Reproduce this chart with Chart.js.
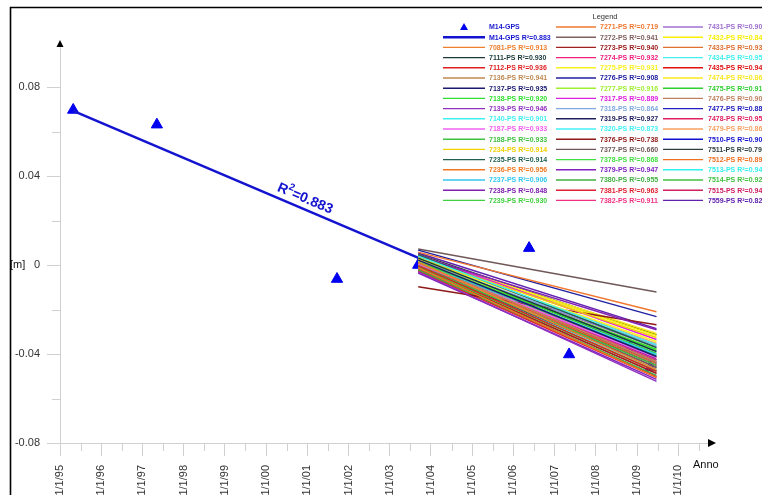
<!DOCTYPE html>
<html>
<head>
<meta charset="utf-8">
<script src="https://cdn.jsdelivr.net/npm/chart.js@4.4.1/dist/chart.umd.min.js"></script>
<style>
  html, body { margin: 0; padding: 0; background: #fff; }
  canvas { display: block; }
</style>
</head>
<body>
<canvas id="c" width="762" height="495"></canvas>
<script>
// ---------------- DATA ----------------
const xTickYears = [1995,1996,1997,1998,1999,2000,2001,2002,2003,2004,2005,2006,2007,2008,2009,2010];
const xTickLabels = ['1/1/95','1/1/96','1/1/97','1/1/98','1/1/99','1/1/00','1/1/01','1/1/02','1/1/03','1/1/04','1/1/05','1/1/06','1/1/07','1/1/08','1/1/09','1/1/10'];
const yTickValues = [-0.08, -0.04, 0, 0.04, 0.08];
const yTickLabels = ['-0.08', '-0.04', '0', '0.04', '0.08'];

const gpsDates  = [1995.32, 1997.35, 2001.72, 2003.69, 2006.38, 2007.35, 2008.83, 2009.32];
const gpsValues = [0.0697, 0.0631, -0.0063, 0.0000, 0.0076, -0.0402, -0.0371, -0.0461];

const gpsTrendDates  = [1995.32, 2009.45];
const gpsTrendValues = [0.0693, -0.0422];
const gpsTrendR2 = '0.883';
const gpsTrendLabelYear = 2000.85;

const psDates = [2003.69, 2009.47];
const psNames = ['7081','7111','7112','7136','7137','7138','7139','7140','7187','7188','7234','7235','7236','7237','7238','7239',
                 '7271','7272','7273','7274','7275','7276','7277','7317','7318','7319','7320','7376','7377','7378','7379','7380','7381','7382',
                 '7431','7432','7433','7434','7435','7474','7475','7476','7477','7478','7479','7510','7511','7512','7513','7514','7515','7559'];
const psR2 = ['0.913','0.930','0.936','0.941','0.935','0.920','0.946','0.901','0.933','0.933','0.914','0.914','0.956','0.906','0.848','0.930',
              '0.719','0.941','0.940','0.932','0.931','0.908','0.916','0.889','0.864','0.927','0.873','0.738','0.660','0.868','0.947','0.955','0.963','0.911',
              '0.90','0.84','0.93','0.95','0.94','0.86','0.91','0.90','0.88','0.95','0.86','0.90','0.79','0.89','0.94','0.92','0.94','0.82'];
const psStartValues = [0.0013,0.0031,-0.0004,0.0009,0.0022,0.0013,-0.0031,0.0040,0.0004,-0.0004,0.0031,0.0045,-0.0013,0.0013,0.0040,-0.0009,
                       0.0058,0.0000,-0.0013,0.0009,0.0027,0.0067,0.0018,0.0045,0.0022,-0.0004,0.0031,-0.0098,0.0072,0.0013,-0.0036,-0.0022,-0.0027,0.0004,
                       0.0022,0.0036,0.0004,-0.0004,0.0013,0.0040,0.0027,0.0018,0.0009,-0.0018,0.0031,0.0013,0.0049,-0.0004,0.0000,0.0004,-0.0022,0.0054];
const psEndValues = [-0.0469,-0.0389,-0.0478,-0.0434,-0.0411,-0.0380,-0.0523,-0.0358,-0.0416,-0.0451,-0.0326,-0.0371,-0.0505,-0.0402,-0.0291,-0.0478,
                     -0.0210,-0.0460,-0.0487,-0.0434,-0.0344,-0.0232,-0.0380,-0.0335,-0.0362,-0.0460,-0.0389,-0.0268,-0.0121,-0.0407,-0.0514,-0.0496,-0.0505,-0.0425,
                     -0.0371,-0.0317,-0.0442,-0.0469,-0.0451,-0.0308,-0.0398,-0.0416,-0.0425,-0.0487,-0.0353,-0.0442,-0.0313,-0.0474,-0.0451,-0.0434,-0.0501,-0.0286];

// ---------------- STYLES ----------------
const psColors = ['#F08030','#1A3A3A','#E02020','#C08850','#1A1A70','#30E030','#9030C0','#40F0F0','#F060F0','#40C040','#F0D000','#206050','#F07820','#30C8F0','#8020B0','#40D040',
                  '#F07830','#806060','#A02020','#F02080','#F8F020','#2020A0','#A0F030','#E020E0','#80A8E0','#202060','#40F0F8','#901818','#705858','#40E040','#8020C0','#40B040','#E02030','#F03080',
                  '#A070D0','#F8F000','#E07030','#40F0F0','#E01010','#F8E820','#30D030','#C08060','#2020C0','#E02060','#F8A060','#1010D0','#304040','#F07020','#30F0F0','#40C040','#D02060','#6020B0'];
const gpsColor = '#0000F0';
const trendColor = '#1414D0';
const FONT = "'Liberation Sans', Arial, sans-serif";

const xMinorTicks = [];
for (let y = 1995; y <= 2010.5; y += 0.5) xMinorTicks.push(y);
const yAllTicks = [-0.08, -0.06, -0.04, -0.02, 0, 0.02, 0.04, 0.06, 0.08];

// ---------------- DATASETS ----------------
const datasets = [];
psNames.forEach((n, i) => {
  datasets.push({
    label: n + '-PS R²=' + psR2[i],
    data: psDates.map((d, k) => ({ x: d, y: k === 0 ? psStartValues[i] : psEndValues[i] })),
    showLine: true,
    borderColor: psColors[i],
    backgroundColor: psColors[i],
    borderWidth: 1.5,
    pointRadius: 0,
    order: 0
  });
});
datasets.push({
  label: 'M14-GPS R²=' + gpsTrendR2,
  data: gpsTrendDates.map((d, k) => ({ x: d, y: gpsTrendValues[k] })),
  showLine: true,
  borderColor: trendColor,
  backgroundColor: trendColor,
  borderWidth: 2.6,
  pointRadius: 0,
  order: 1
});
datasets.push({
  label: 'M14-GPS',
  data: gpsDates.map((d, k) => ({ x: d, y: gpsValues[k] })),
  showLine: false,
  pointStyle: 'triangle',
  pointRadius: 6.5,
  pointBackgroundColor: gpsColor,
  pointBorderColor: gpsColor,
  pointBorderWidth: 1,
  order: 2
});

// ---------------- PLUGIN ----------------
const decor = {
  id: 'decor',
  beforeDraw(chart) {
    const c = chart.ctx;
    c.save();
    c.fillStyle = '#fff';
    c.fillRect(0, 0, chart.width, chart.height);
    c.restore();
  },
  afterDatasetsDraw(chart) {
    const c = chart.ctx, xs = chart.scales.x, ys = chart.scales.y;
    const x1 = xs.getPixelForValue(gpsTrendDates[0]), y1 = ys.getPixelForValue(gpsTrendValues[0]);
    const x2 = xs.getPixelForValue(gpsTrendDates[1]), y2 = ys.getPixelForValue(gpsTrendValues[1]);
    const ang = Math.atan2(y2 - y1, x2 - x1);
    const t = (gpsTrendLabelYear - gpsTrendDates[0]) / (gpsTrendDates[1] - gpsTrendDates[0]);
    const px = x1 + t * (x2 - x1), py = y1 + t * (y2 - y1);
    c.save();
    c.translate(px, py);
    c.rotate(ang);
    c.translate(0, -10);
    c.fillStyle = trendColor;
    c.textBaseline = 'middle';
    const fBig = 'bold 14px ' + FONT, fSmall = 'bold 10px ' + FONT;
    c.font = fBig; const wR = c.measureText('R').width; const wRest = c.measureText('=' + gpsTrendR2).width;
    c.font = fSmall; const w2 = c.measureText('2').width;
    let sx = -(wR + w2 + wRest) / 2;
    c.font = fBig; c.textAlign = 'left';
    c.fillText('R', sx, 0); sx += wR;
    c.font = fSmall; c.fillText('2', sx, -5); sx += w2;
    c.font = fBig; c.fillText('=' + gpsTrendR2, sx, 0);
    c.restore();
  },
  afterDraw(chart) {
    const c = chart.ctx, xs = chart.scales.x, ys = chart.scales.y, a = chart.chartArea;
    c.save();
    c.strokeStyle = '#d0d0d0'; c.lineWidth = 1;
    xMinorTicks.forEach(v => {
      if (Number.isInteger(v)) return;
      const x = Math.round(xs.getPixelForValue(v)) + 0.5;
      c.beginPath(); c.moveTo(x, a.bottom); c.lineTo(x, a.bottom + 8); c.stroke();
    });
    yAllTicks.forEach(v => {
      if (yTickValues.some(m => Math.abs(m - v) < 1e-9)) return;
      const y = Math.round(ys.getPixelForValue(v)) + 0.5;
      c.beginPath(); c.moveTo(a.left - 8, y); c.lineTo(a.left, y); c.stroke();
    });
    c.fillStyle = '#000';
    c.beginPath(); c.moveTo(a.right, a.bottom - 4); c.lineTo(a.right + 8, a.bottom); c.lineTo(a.right, a.bottom + 4); c.closePath(); c.fill();
    c.beginPath(); c.moveTo(a.left - 3.5, a.top); c.lineTo(a.left, a.top - 7); c.lineTo(a.left + 3.5, a.top); c.closePath(); c.fill();
    c.strokeStyle = '#000'; c.lineWidth = 1.6;
    c.beginPath(); c.moveTo(10.5, chart.height); c.lineTo(10.5, 7.5); c.lineTo(chart.width, 7.5); c.stroke();
    c.fillStyle = '#111'; c.font = '11px ' + FONT; c.textBaseline = 'middle'; c.textAlign = 'left';
    c.fillText('[m]', 10, ys.getPixelForValue(0));
    c.fillText('Anno', a.right - 15, a.bottom + 22);
    c.fillStyle = '#333'; c.font = '7.5px ' + FONT; c.textAlign = 'center';
    c.fillText('Legend', 605, 17);
    const items = [{ kind: 'tri', label: 'M14-GPS', color: gpsColor }, { kind: 'thick', label: 'M14-GPS R²=' + gpsTrendR2, color: trendColor }];
    psNames.forEach((n, i) => items.push({ kind: 'line', label: n + '-PS R²=' + psR2[i], color: psColors[i] }));
    const colLineX0 = [443, 556, 663], colLineX1 = [485, 596, 703], colTextX = [489, 600, 708];
    c.font = 'bold 7px ' + FONT; c.textAlign = 'left';
    items.forEach((it, i) => {
      const col = Math.floor(i / 18), row = i % 18;
      const y = 27 + row * 10.2;
      if (it.kind === 'tri') {
        const cx = (colLineX0[col] + colLineX1[col]) / 2;
        c.fillStyle = it.color;
        c.beginPath(); c.moveTo(cx - 4, y + 3); c.lineTo(cx, y - 4); c.lineTo(cx + 4, y + 3); c.closePath(); c.fill();
      } else {
        c.strokeStyle = it.color; c.lineWidth = it.kind === 'thick' ? 2.6 : 1.4;
        c.beginPath(); c.moveTo(colLineX0[col], y); c.lineTo(colLineX1[col], y); c.stroke();
      }
      c.fillStyle = it.color === gpsColor ? '#1a1ad0' : it.color;
      c.fillText(it.label, colTextX[col], y + 0.5);
    });
    c.restore();
  }
};

// ---------------- CHART ----------------
new Chart(document.getElementById('c'), {
  type: 'scatter',
  data: { datasets },
  options: {
    responsive: false,
    animation: false,
    events: [],
    layout: { padding: { left: 0, top: 47, right: 54, bottom: 0 } },
    plugins: { legend: { display: false }, tooltip: { enabled: false } },
    scales: {
      x: {
        type: 'linear',
        min: 1995,
        max: 2010.72,
        afterBuildTicks: s => { s.ticks = xTickYears.map(v => ({ value: v })); },
        afterFit: s => { s.height = 52; },
        ticks: {
          autoSkip: false, maxRotation: 90, minRotation: 90, padding: 9,
          color: '#333', font: { family: FONT, size: 11 },
          callback: (v) => { const i = xTickYears.indexOf(v); return i >= 0 ? xTickLabels[i] : ''; }
        },
        grid: { drawOnChartArea: false, drawTicks: true, tickLength: 13, tickColor: '#d0d0d0' },
        border: { display: true, color: '#d0d0d0', width: 1 }
      },
      y: {
        type: 'linear',
        min: -0.08,
        max: 0.098,
        afterBuildTicks: s => { s.ticks = yTickValues.map(v => ({ value: v })); },
        afterFit: s => { s.width = 60; },
        ticks: {
          padding: 7, color: '#333', font: { family: FONT, size: 11 },
          callback: (v) => { const i = yTickValues.findIndex(m => Math.abs(m - v) < 1e-9); return i >= 0 ? yTickLabels[i] : ''; }
        },
        grid: { drawOnChartArea: false, drawTicks: true, tickLength: 13, tickColor: '#d0d0d0' },
        border: { display: true, color: '#d0d0d0', width: 1 }
      }
    }
  },
  plugins: [decor]
});
</script>
</body>
</html>
